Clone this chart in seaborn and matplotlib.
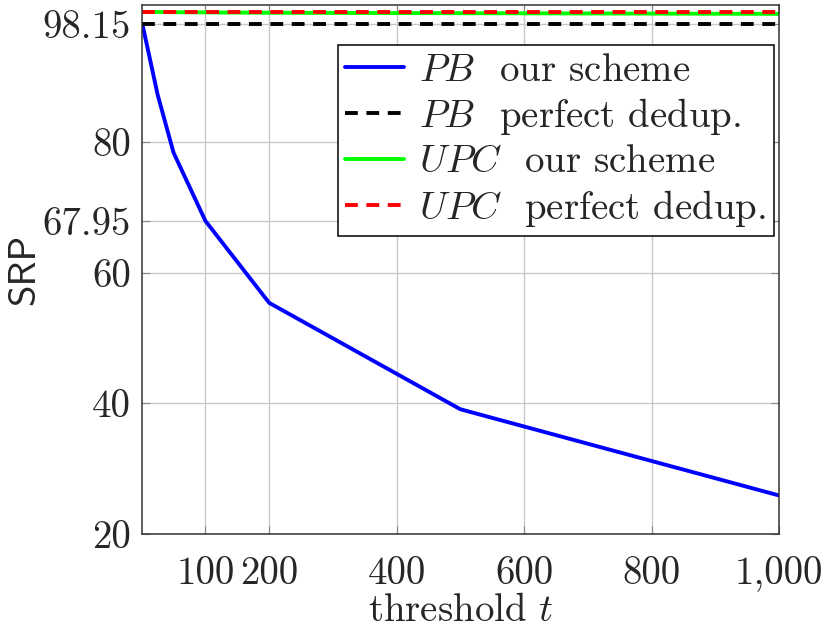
import pandas as pd
import seaborn as sns
import matplotlib.pyplot as plt

# threshold values and SRP readings
thresholds = [1, 25, 50, 100, 200, 500, 1000]
pb_ours = [98.15, 87.3, 78.4, 67.95, 55.4, 39.1, 25.9]
pb_perfect = [98.15, 98.15, 98.15, 98.15, 98.15, 98.15, 98.15]
upc_ours = [99.95, 99.93, 99.9, 99.87, 99.82, 99.75, 99.65]
upc_perfect = [100.0, 100.0, 100.0, 100.0, 100.0, 100.0, 100.0]

x_ticks = [100, 200, 400, 600, 800, 1000]
x_tick_labels = ["100", "200", "400", "600", "800", "1,000"]
y_ticks = [20, 40, 60, 67.95, 80, 98.15]
y_tick_labels = ["20", "40", "60", "67.95", "80", "98.15"]

series = [
    (r"$PB$  our scheme", pb_ours),
    (r"$PB$  perfect dedup.", pb_perfect),
    (r"$UPC$  our scheme", upc_ours),
    (r"$UPC$  perfect dedup.", upc_perfect),
]
df = pd.concat(
    [pd.DataFrame({"t": thresholds, "srp": vals, "series": name}) for name, vals in series],
    ignore_index=True,
)

sns.set_style("ticks")
plt.rcParams["font.family"] = ["cmr10", "DejaVu Serif"]
plt.rcParams["mathtext.fontset"] = "cm"
plt.rcParams["axes.formatter.use_mathtext"] = True

fig = plt.figure(figsize=(8.24, 6.3), dpi=100)
ax = fig.add_axes([0.1727, 0.1524, 0.7727, 0.8396])

names = [s[0] for s in series]
palette = dict(zip(names, ["#0000ff", "black", "#00ff00", "#ff0000"]))
dash = (3.3, 2.2)
dashes = dict(zip(names, ["", dash, "", dash]))

sns.lineplot(
    data=df, x="t", y="srp", hue="series", style="series",
    palette=palette, dashes=dashes, linewidth=2.8, ax=ax, legend=True,
)

ax.set_xlim(1, 1000)
ax.set_ylim(20, 101)
ax.set_xticks(x_ticks)
ax.set_xticklabels(x_tick_labels)
ax.set_yticks(y_ticks)
ax.set_yticklabels(y_tick_labels)

ax.grid(True, color="#c8c8c8", linewidth=1.0)
ax.set_axisbelow(True)
ax.tick_params(direction="in", length=6, width=0.8, color="#888888",
               labelsize=28, top=True, right=True)
ax.tick_params(axis="x", pad=16)
ax.tick_params(axis="y", pad=8)
for s in ax.spines.values():
    s.set_color("#333333")
    s.set_linewidth(1.1)

ax.set_xlabel(r"threshold $t$", fontsize=28, labelpad=1)
ax.set_ylabel("SRP", fontsize=28, family=["cmss10", "DejaVu Sans"], labelpad=0)

leg = ax.legend(
    loc="upper right", bbox_to_anchor=(0.992, 0.9244), borderaxespad=0,
    fontsize=28, frameon=True, fancybox=False, edgecolor="black",
    handlelength=1.5, handletextpad=0.4, labelspacing=0.19,
    borderpad=0.2,
)
leg.get_frame().set_linewidth(1.1)
leg.get_frame().set_alpha(1)

fig.savefig("out.png", dpi=100)
